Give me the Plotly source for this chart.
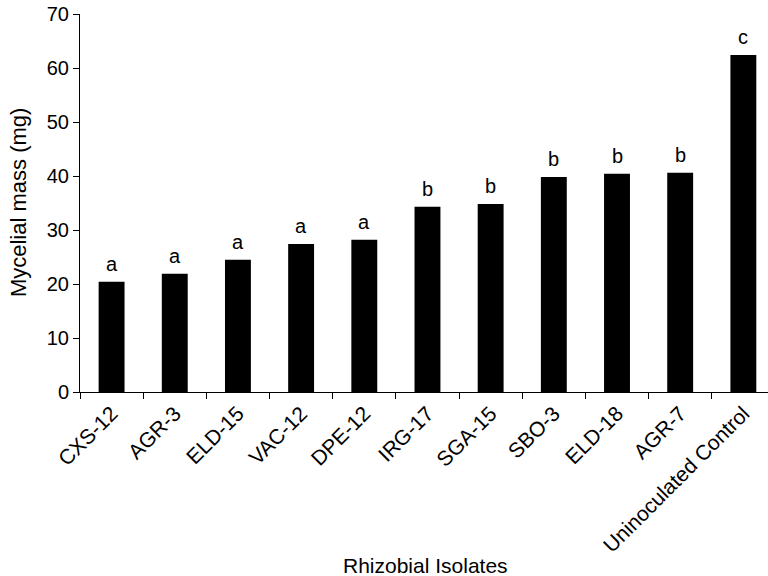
import plotly.graph_objects as go

isolates = ["CXS-12", "AGR-3", "ELD-15", "VAC-12", "DPE-12", "IRG-17",
            "SGA-15", "SBO-3", "ELD-18", "AGR-7", "Uninoculated Control"]
mass_mg = [20.4, 21.9, 24.5, 27.4, 28.2, 34.3, 34.8, 39.8, 40.4, 40.6, 62.4]
groups = ["a", "a", "a", "a", "a", "b", "b", "b", "b", "b", "c"]

FONT = "Liberation Sans, Arial, Helvetica, sans-serif"

fig = go.Figure()
fig.add_trace(go.Bar(x=isolates, y=mass_mg, marker=dict(color="black", line=dict(width=0)),
                     width=0.41, showlegend=False))

for name, val, g in zip(isolates, mass_mg, groups):
    fig.add_annotation(x=name, y=val, text=g, showarrow=False, yanchor="bottom",
                       yshift=5, font=dict(family=FONT, size=20, color="black"))

# plot area: x 80..768 (axis continues past the right edge), y 14..392.4
fig.add_annotation(xref="paper", yref="paper", x=0.502, y=-0.459, text="Rhizobial Isolates",
                   showarrow=False, xanchor="center", yanchor="middle",
                   font=dict(family=FONT, size=21, color="black"))
fig.add_annotation(xref="paper", yref="paper", x=-0.09, y=0.5, text="Mycelial mass (mg)",
                   showarrow=False, xanchor="center", yanchor="middle", textangle=-90,
                   font=dict(family=FONT, size=22, color="black"))

fig.update_layout(
    width=768, height=576,
    margin=dict(l=80, r=0, t=14, b=184),
    plot_bgcolor="white", paper_bgcolor="white",
    font=dict(family=FONT, size=20, color="black"),
    bargap=0.59,
)
fig.update_xaxes(
    type="category", range=[-0.5, 10.39], automargin=False,
    showline=True, linecolor="black", linewidth=1,
    ticks="outside", tickson="boundaries", ticklen=6, tickcolor="black",
    tickangle=-45, tickfont=dict(family=FONT, size=21),
    showgrid=False, zeroline=False,
)
fig.update_yaxes(
    range=[0, 70], dtick=10, automargin=False, ticklabeloverflow="allow",
    showline=True, linecolor="black", linewidth=1,
    ticks="outside", ticklen=6, tickcolor="black",
    tickfont=dict(family=FONT, size=20),
    showgrid=False, zeroline=False,
)

fig.write_html("out.html", config={"displayModeBar": False},
               post_script="document.body.style.margin='0';")
